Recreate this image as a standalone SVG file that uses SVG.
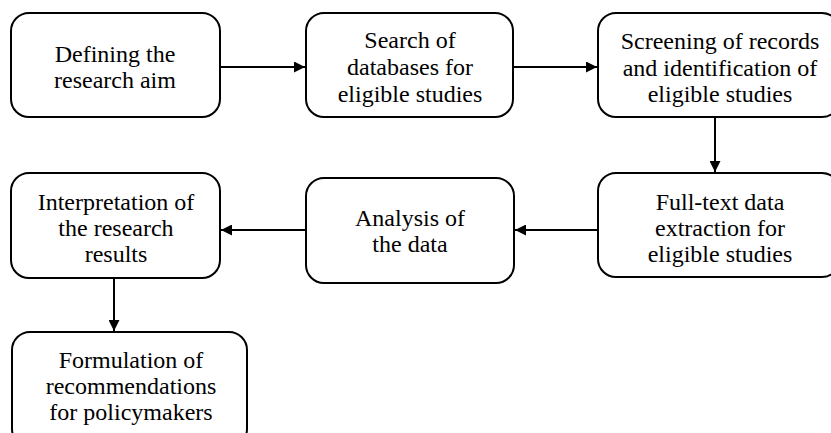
<svg xmlns="http://www.w3.org/2000/svg" width="831" height="433" viewBox="0 0 831 433">
<style>
.box{fill:#fff;stroke:#000;stroke-width:2}
text{font-family:'Liberation Serif','Times New Roman',serif;font-size:24px;fill:#000;text-anchor:middle}
.c{stroke:#000;stroke-width:2;fill:none;marker-end:url(#ah)}
</style>
<defs>
<marker id="ah" viewBox="0 0 10 10" refX="10" refY="5" markerWidth="5.5" markerHeight="5.5" markerUnits="strokeWidth" orient="auto">
<path d="M0,0 L10,5 L0,10 z" fill="#000"/>
</marker>
</defs>
<rect width="831" height="433" fill="#fff"/>
<g id="connectors">
<line class="c" x1="220" y1="67" x2="305" y2="67"/>
<line class="c" x1="513" y1="67" x2="597" y2="67"/>
<line class="c" x1="715" y1="117" x2="715" y2="172"/>
<line class="c" x1="598" y1="230" x2="515" y2="230"/>
<line class="c" x1="306" y1="230" x2="221" y2="230"/>
<line class="c" x1="114" y1="278" x2="114" y2="331"/>
</g>
<g id="n1">
<rect class="box" x="11" y="13" width="209" height="104" rx="18"/>
<text x="115" y="62">Defining the</text>
<text x="115" y="88">research aim</text>
</g>
<g id="n2">
<rect class="box" x="306" y="13" width="207" height="104" rx="18"/>
<text x="410" y="48">Search of</text>
<text x="410" y="75">databases for</text>
<text x="410" y="102">eligible studies</text>
</g>
<g id="n3">
<rect class="box" x="598" y="13" width="242" height="104" rx="18"/>
<text x="720" y="49">Screening of records</text>
<text x="720" y="76">and identification of</text>
<text x="720" y="102">eligible studies</text>
</g>
<g id="n4">
<rect class="box" x="598" y="173" width="242" height="104" rx="18"/>
<text x="720" y="210">Full-text data</text>
<text x="720" y="236">extraction for</text>
<text x="720" y="262">eligible studies</text>
</g>
<g id="n5">
<rect class="box" x="306" y="178" width="208" height="105" rx="18"/>
<text x="410" y="226">Analysis of</text>
<text x="410" y="252">the data</text>
</g>
<g id="n6">
<rect class="box" x="11" y="173" width="209" height="105" rx="18"/>
<text x="116" y="210">Interpretation of</text>
<text x="116" y="236">the research</text>
<text x="116" y="262">results</text>
</g>
<g id="n7">
<rect class="box" x="12" y="332" width="235" height="115" rx="18"/>
<text x="131" y="368">Formulation of</text>
<text x="131" y="394">recommendations</text>
<text x="131" y="420">for policymakers</text>
</g>
</svg>
